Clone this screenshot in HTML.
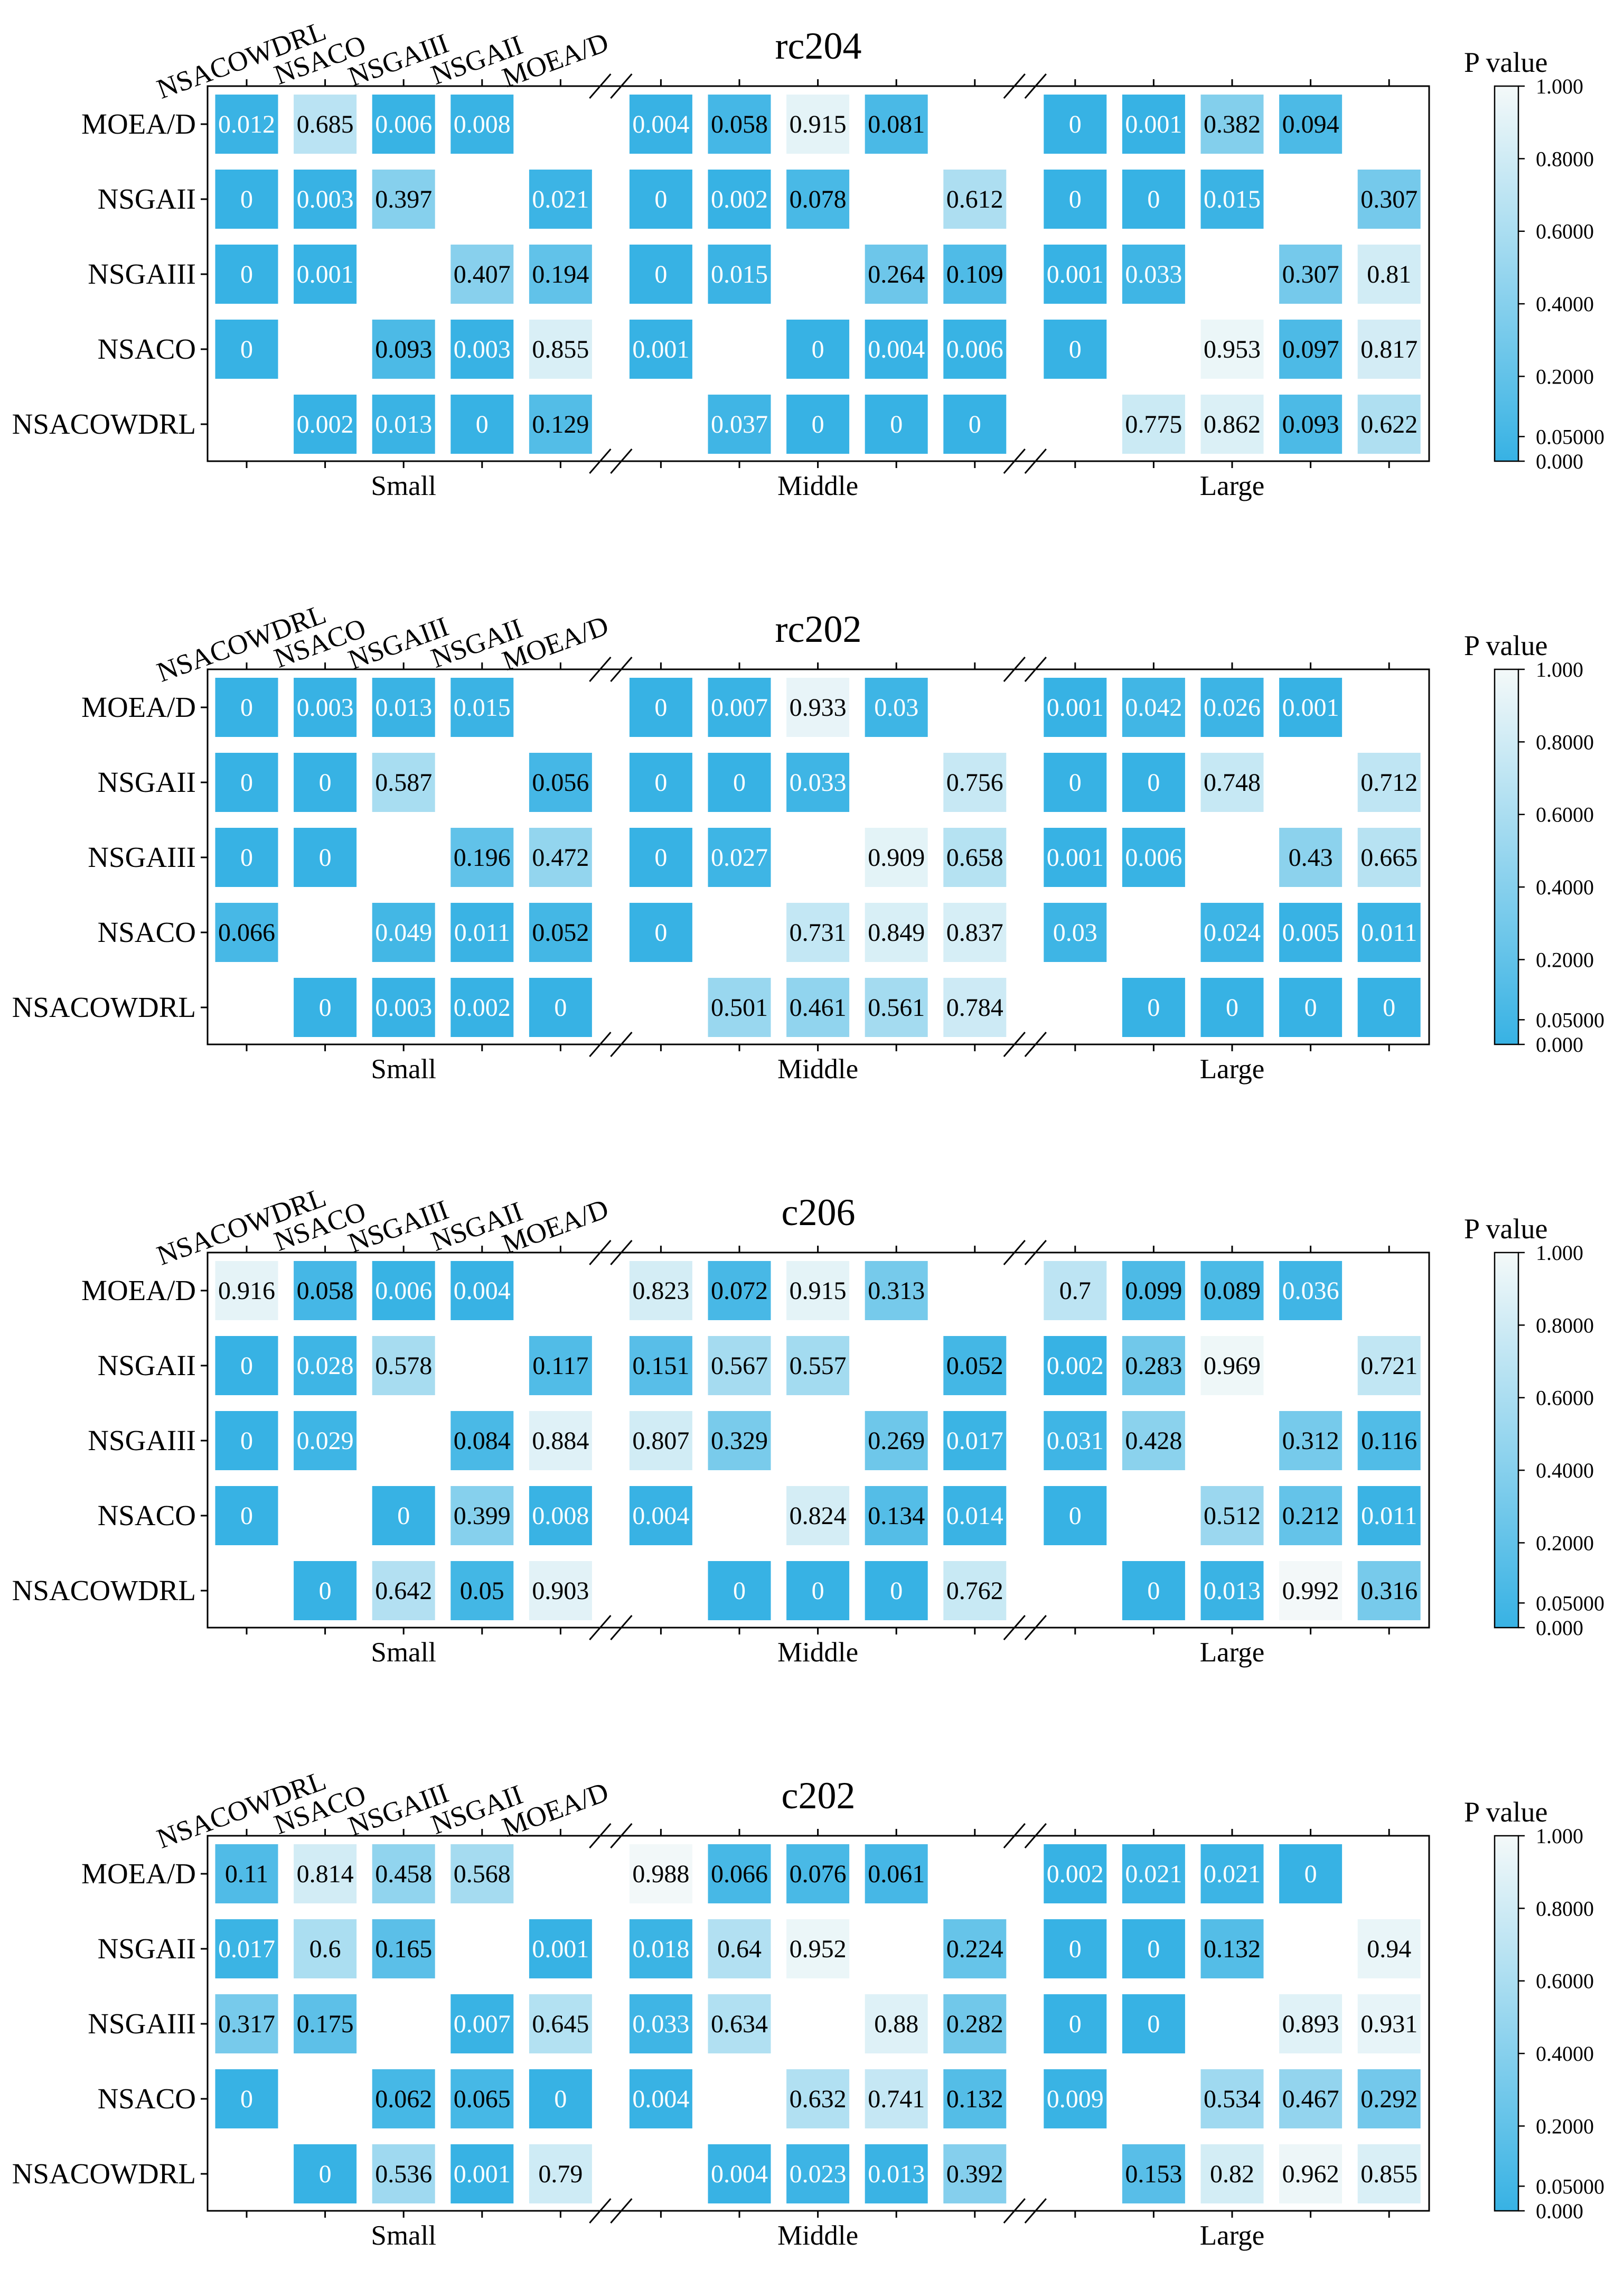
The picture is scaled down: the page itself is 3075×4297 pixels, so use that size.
<!DOCTYPE html>
<html><head><meta charset="utf-8"><title>P value heatmaps</title>
<style>
html,body{margin:0;padding:0;background:#fff;}
svg{display:block;font-family:"Liberation Serif","DejaVu Serif",serif;}
</style></head>
<body>
<svg id="chart" width="3075" height="4297" viewBox="0 0 3075 4297" xmlns="http://www.w3.org/2000/svg">
<defs>
<linearGradient id="cbgrad" x1="0" y1="1" x2="0" y2="0">
<stop offset="0" stop-color="#37B2E4"/>
<stop offset="1" stop-color="#F4F9F9"/>
</linearGradient>
</defs>
</svg>
<script>
const panelTitles = ["rc204","rc202","c206","c202"];
const rowLabels = ["MOEA/D","NSGAII","NSGAIII","NSACO","NSACOWDRL"];
const colLabels = ["NSACOWDRL","NSACO","NSGAIII","NSGAII","MOEA/D"];
const groupLabels = ["Small","Middle","Large"];
const cbTicks = [0, 0.05, 0.2, 0.4, 0.6, 0.8, 1.0];
const cbTickLabels = ["0.000","0.05000","0.2000","0.4000","0.6000","0.8000","1.000"];
const N = null;
const rc204 = [
 [0.012,0.685,0.006,0.008,N, 0.004,0.058,0.915,0.081,N, 0,0.001,0.382,0.094,N],
 [0,0.003,0.397,N,0.021, 0,0.002,0.078,N,0.612, 0,0,0.015,N,0.307],
 [0,0.001,N,0.407,0.194, 0,0.015,N,0.264,0.109, 0.001,0.033,N,0.307,0.81],
 [0,N,0.093,0.003,0.855, 0.001,N,0,0.004,0.006, 0,N,0.953,0.097,0.817],
 [N,0.002,0.013,0,0.129, N,0.037,0,0,0, N,0.775,0.862,0.093,0.622]
];
const rc202 = [
 [0,0.003,0.013,0.015,N, 0,0.007,0.933,0.03,N, 0.001,0.042,0.026,0.001,N],
 [0,0,0.587,N,0.056, 0,0,0.033,N,0.756, 0,0,0.748,N,0.712],
 [0,0,N,0.196,0.472, 0,0.027,N,0.909,0.658, 0.001,0.006,N,0.43,0.665],
 [0.066,N,0.049,0.011,0.052, 0,N,0.731,0.849,0.837, 0.03,N,0.024,0.005,0.011],
 [N,0,0.003,0.002,0, N,0.501,0.461,0.561,0.784, N,0,0,0,0]
];
const c206 = [
 [0.916,0.058,0.006,0.004,N, 0.823,0.072,0.915,0.313,N, 0.7,0.099,0.089,0.036,N],
 [0,0.028,0.578,N,0.117, 0.151,0.567,0.557,N,0.052, 0.002,0.283,0.969,N,0.721],
 [0,0.029,N,0.084,0.884, 0.807,0.329,N,0.269,0.017, 0.031,0.428,N,0.312,0.116],
 [0,N,0,0.399,0.008, 0.004,N,0.824,0.134,0.014, 0,N,0.512,0.212,0.011],
 [N,0,0.642,0.05,0.903, N,0,0,0,0.762, N,0,0.013,0.992,0.316]
];
const c202 = [
 [0.11,0.814,0.458,0.568,N, 0.988,0.066,0.076,0.061,N, 0.002,0.021,0.021,0,N],
 [0.017,0.6,0.165,N,0.001, 0.018,0.64,0.952,N,0.224, 0,0,0.132,N,0.94],
 [0.317,0.175,N,0.007,0.645, 0.033,0.634,N,0.88,0.282, 0,0,N,0.893,0.931],
 [0,N,0.062,0.065,0, 0.004,N,0.632,0.741,0.132, 0.009,N,0.534,0.467,0.292],
 [N,0,0.536,0.001,0.79, N,0.004,0.023,0.013,0.392, N,0.153,0.82,0.962,0.855]
];
const panelData = [rc204, rc202, c206, c202];

const svg = document.getElementById('chart');
const NS = "http://www.w3.org/2000/svg";
function mk(tag, attrs, parent){ const e=document.createElementNS(NS,tag); for(const k in attrs) e.setAttribute(k,attrs[k]); parent.appendChild(e); return e; }

const AX_L=393, AX_R=2706, PANEL0=163, PERIOD=1104, AX_H=710;
const COL0=467, COLSTEP=148.6, GROUPSTEP=4*148.6+190;
const ROW0=72, ROWSTEP=142, CW=119, CH=112;
function colX(c){ const g=Math.floor(c/5), i=c%5; return COL0+g*GROUPSTEP+i*COLSTEP; }
function rowY(top,r){ return top+ROW0+r*ROWSTEP; }
function norm(v){
  const a=77/1172, b=188/1172;
  if(v<=0.05) return v/0.05*a;
  if(v<=0.2) return a+(v-0.05)/0.15*b;
  return a+b+(v-0.2)/0.8*(1-a-b);
}
const C0=[55,178,228], C1=[244,249,249];
function color(v){ const t=norm(v); const c=C0.map((x,i)=>Math.round(x+(C1[i]-x)*t)); return `rgb(${c[0]},${c[1]},${c[2]})`; }

panelData.forEach((data,p)=>{
  const top=PANEL0+p*PERIOD, bot=top+AX_H;
  const g=mk('g',{},svg);
  
  
  const t=mk('text',{x:(AX_L+AX_R)/2,y:top-52,'font-size':72,'text-anchor':'middle'},g);
  
  
  t.textContent=panelTitles[p];
  data.forEach((row,r)=>{
    row.forEach((v,c)=>{
      if(v===null) return;
      const cx=colX(c), cy=rowY(top,r);
      const rect=mk('rect',{x:cx-CW/2,y:cy-CH/2,width:CW,height:CH,fill:color(v)},g);
      
      
      const tx=mk('text',{x:cx,y:cy+16,'font-size':48,'text-anchor':'middle',fill:(v<0.05?'#fff':'#000')},g);
      
      
      tx.textContent=String(v);
    });
  });
  const fr=mk('rect',{x:AX_L,y:top,width:AX_R-AX_L,height:AX_H,fill:'none',stroke:'#000','stroke-width':3},g);
  
  
  for(let c=0;c<15;c++){
    const x=colX(c);
    mk('line',{x1:x,y1:top,x2:x,y2:top-13,stroke:'#000','stroke-width':3},g);
    mk('line',{x1:x,y1:bot,x2:x,y2:bot+13,stroke:'#000','stroke-width':3},g);
  }
  [0,1].forEach(k=>{
    const gx=(colX(k*5+4)+colX(k*5+5))/2;
    [top,bot].forEach(yy=>{
      [-20,20].forEach(d=>{
        const l=mk('line',{x1:gx+d-20,y1:yy+23,x2:gx+d+20,y2:yy-23,stroke:'#000','stroke-width':3},g);
        
        
      });
    });
  });
  rowLabels.forEach((lab,r)=>{
    const y=rowY(top,r);
    mk('line',{x1:AX_L,y1:y,x2:AX_L-13,y2:y,stroke:'#000','stroke-width':3},g);
    const tx=mk('text',{x:AX_L-22,y:y+18,'font-size':55,'text-anchor':'end'},g);
    
    
    tx.textContent=lab;
  });
  colLabels.forEach((lab,i)=>{
    const x=colX(i)-10, y=top-50;
    const tx=mk('text',{x:x,y:y+18,'font-size':53,'text-anchor':'middle',transform:`rotate(-20 ${x} ${y})`},g);
    
    
    tx.textContent=lab;
  });
  groupLabels.forEach((lab,k)=>{
    const tx=mk('text',{x:colX(k*5+2),y:bot+64,'font-size':53,'text-anchor':'middle'},g);
    
    
    tx.textContent=lab;
  });
  const CBX=2830, CBW=45;
  const cbt=mk('text',{x:2772,y:top-27,'font-size':54},g);
  
  
  cbt.textContent='P value';
  const cb=mk('rect',{x:CBX,y:top,width:CBW,height:AX_H,fill:'url(#cbgrad)',stroke:'#000','stroke-width':2.5},g);
  
  
  cbTicks.forEach((v,i)=>{
    const y=bot-norm(v)*AX_H;
    mk('line',{x1:CBX+CBW,y1:y,x2:CBX+CBW+12,y2:y,stroke:'#000','stroke-width':2.5},g);
    const tx=mk('text',{x:2908,y:y+14,'font-size':40},g);
    
    
    tx.textContent=cbTickLabels[i];
  });
});
</script>
</body></html>
